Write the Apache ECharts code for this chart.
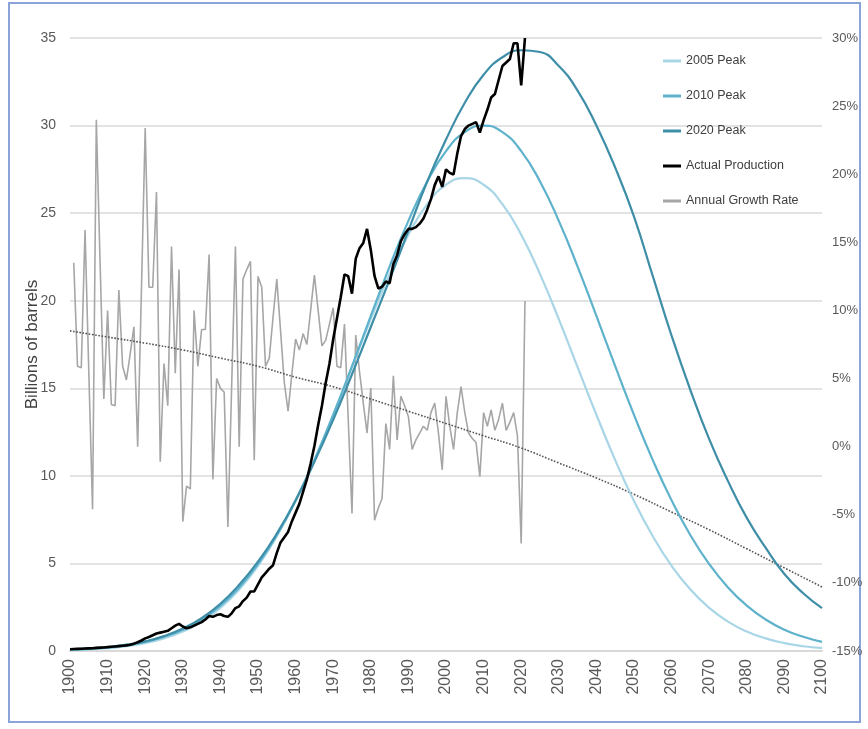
<!DOCTYPE html>
<html>
<head>
<meta charset="utf-8">
<script src="https://cdn.jsdelivr.net/npm/echarts@6/dist/echarts.min.js"></script>
<style>html,body{margin:0;padding:0;background:#fff;}#c{width:868px;height:729px;}</style>
</head>
<body>
<div id="c"></div>
<script>
// ---- data ----
const peakYears = [1900,1905,1910,1915,1920,1925,1930,1935,1940,1945,1950,1955,1960,1965,1970,1975,1980,1985,1990,1995,2000,2005,2010,2015,2020,2025,2030,2035,2040,2045,2050,2055,2060,2065,2070,2075,2080,2085,2090,2095,2100];
const peak2005 = [0.05,0.09,0.16,0.27,0.45,0.72,1.11,1.68,2.46,3.51,4.86,6.55,8.57,10.9,13.49,16.21,18.95,21.52,23.77,25.51,26.62,27.0,26.62,25.51,23.77,21.52,18.95,16.21,13.49,10.9,8.57,6.55,4.86,3.51,2.46,1.68,1.11,0.72,0.45,0.27,0.16];
const peak2010 = [0.07,0.12,0.2,0.33,0.52,0.81,1.22,1.8,2.59,3.63,4.96,6.61,8.6,10.9,13.48,16.26,19.13,21.95,24.56,26.81,28.54,29.63,30.0,29.63,28.54,26.81,24.56,21.95,19.13,16.26,13.48,10.9,8.6,6.61,4.96,3.63,2.59,1.8,1.22,0.81,0.52];
const peak2020 = [0.1,0.15,0.23,0.36,0.55,0.85,1.28,1.88,2.7,3.78,5.1,6.7,8.6,10.8,13.2,15.8,18.5,21.2,24.0,26.8,29.2,31.3,32.9,33.9,34.3,34.2,33.4,32.0,30.0,27.6,24.8,21.4,18.0,14.9,12.1,9.7,7.6,5.9,4.4,3.3,2.45];

const productionStart = 1900;
const production = [
  0.1,0.11,0.12,0.13,0.14,0.15,0.16,0.18,0.19,0.2,
  0.22,0.24,0.26,0.28,0.3,0.32,0.36,0.42,0.5,0.6,
  0.72,0.8,0.9,1.0,1.05,1.1,1.15,1.3,1.45,1.55,
  1.4,1.3,1.35,1.45,1.55,1.65,1.8,2.0,1.95,2.05,
  2.1,2.0,1.95,2.15,2.45,2.55,2.85,3.05,3.4,3.4,
  3.8,4.2,4.45,4.7,4.9,5.6,6.2,6.5,6.8,7.4,
  7.9,8.4,9.1,9.8,10.7,11.7,12.9,14.0,15.3,16.4,
  17.8,19.0,20.2,21.5,21.4,20.4,22.4,23.0,23.3,24.1,
  22.9,21.4,20.7,20.8,21.1,21.0,22.1,22.6,23.4,23.8,
  24.1,24.1,24.2,24.4,24.7,25.2,25.8,26.6,27.1,26.5,
  27.5,27.3,27.2,28.4,29.4,29.8,30.0,30.1,30.2,29.6,
  30.3,30.9,31.6,31.8,32.6,33.4,33.6,33.8,34.7,34.7,
  32.3,35.0
];

const growthStart = 1901;
const growth = [
  13.5,5.9,5.8,15.9,5.5,-4.6,24.0,13.5,3.5,10.0,
  3.1,3.0,11.5,5.9,4.9,6.8,8.8,0.0,11.5,23.4,
  11.7,11.7,18.7,-1.1,6.1,3.0,14.7,5.4,13.0,-5.5,
  -2.9,-3.1,10.0,5.9,8.6,8.6,14.1,-2.4,5.0,4.3,
  4.0,-5.9,4.5,14.7,0.0,12.3,13.0,13.6,-1.0,12.5,
  11.7,5.9,6.5,9.5,12.3,8.5,4.7,2.6,5.3,7.9,
  7.1,8.3,7.5,10.0,12.6,10.0,7.4,7.8,9.0,10.2,
  5.9,5.8,9.0,2.0,-4.9,8.2,5.5,3.2,1.0,4.3,
  -5.4,-4.5,-3.8,1.7,-0.2,5.2,0.5,3.7,3.0,2.2,
  -0.2,0.5,1.0,1.5,1.2,2.5,3.2,1.0,-1.7,3.7,
  1.5,-0.2,2.5,4.4,2.5,1.0,0.6,0.3,-2.2,2.5,
  1.5,2.7,1.2,2.0,3.2,1.2,1.8,2.5,0.8,-7.1,
  10.7
];

const trendYears = [1900,1910,1920,1930,1940,1950,1960,1970,1980,1990,2000,2010,2020,2030,2040,2050,2060,2070,2080,2090,2100];
const trend = [8.5,8.05,7.6,7.1,6.5,5.9,5.1,4.4,3.5,2.6,1.7,0.8,-0.1,-1.2,-2.3,-3.5,-4.8,-6.1,-7.5,-8.9,-10.3];

const legendNames = ['2005 Peak','2010 Peak','2020 Peak','Actual Production','Annual Growth Rate'];

// ---- build ----
const pair = (xs, ys) => ys.map((v, i) => [xs[i], v]);
const seq = (start, ys) => ys.map((v, i) => [start + i, v]);

const FONT = "'Liberation Sans',Arial,sans-serif";

const chart = echarts.init(document.getElementById('c'), null, {renderer: 'canvas'});
chart.setOption({
  animation: false,
  backgroundColor: '#ffffff',
  grid: {left: 70, right: 46, top: 38, bottom: 78},
  legend: {
    orient: 'vertical', left: 658, top: 49,
    icon: 'rect', itemWidth: 18, itemHeight: 3, itemGap: 21,
    data: legendNames,
    textStyle: {fontSize: 12.5, lineHeight: 14, fontFamily: FONT, color: '#404040'}
  },
  xAxis: {
    type: 'value', min: 1900, max: 2100, interval: 10,
    axisLine: {show: true, lineStyle: {color: '#d9d9d9', width: 2}},
    axisTick: {show: false},
    splitLine: {show: false},
    axisLabel: {rotate: 90, fontSize: 16, fontFamily: FONT, color: '#595959', margin: 8, formatter: v => String(v)}
  },
  yAxis: [{
    type: 'value', min: 0, max: 35, interval: 5,
    name: 'Billions of barrels', nameLocation: 'middle', nameGap: 29, nameMoveOverlap: false,
    nameTextStyle: {fontSize: 17, fontFamily: FONT, color: '#404040'},
    axisLine: {show: false}, axisTick: {show: false},
    axisLabel: {fontSize: 14, fontFamily: FONT, color: '#595959', margin: 14},
    splitLine: {show: true, lineStyle: {color: '#e3e3e3', width: 2}}
  }, {
    type: 'value', min: -15, max: 30, interval: 5, position: 'right',
    axisLine: {show: false}, axisTick: {show: false},
    axisLabel: {fontSize: 13, fontFamily: FONT, color: '#595959', margin: 10, formatter: '{value}%'},
    splitLine: {show: false}
  }],
  series: [
    {name: 'Annual Growth Rate', type: 'line', yAxisIndex: 1, data: seq(growthStart, growth), symbol: 'none',
     lineStyle: {color: '#a6a6a6', width: 1.6}, itemStyle: {color: '#a6a6a6'}},
    {name: 'Trend', type: 'line', yAxisIndex: 1, data: pair(trendYears, trend), symbol: 'none', smooth: true,
     lineStyle: {color: '#555555', width: 1.6, type: 'dotted'}, itemStyle: {color: '#555555'}},
    {name: '2005 Peak', type: 'line', data: pair(peakYears, peak2005), symbol: 'none', smooth: true,
     lineStyle: {color: '#a9d6e6', width: 2.2}, itemStyle: {color: '#a9d6e6'}},
    {name: '2010 Peak', type: 'line', data: pair(peakYears, peak2010), symbol: 'none', smooth: true,
     lineStyle: {color: '#5eb2cc', width: 2.2}, itemStyle: {color: '#5eb2cc'}},
    {name: '2020 Peak', type: 'line', data: pair(peakYears, peak2020), symbol: 'none', smooth: true,
     lineStyle: {color: '#3e8ea8', width: 2.2}, itemStyle: {color: '#3e8ea8'}},
    {name: 'Actual Production', type: 'line', data: seq(productionStart, production), symbol: 'none',
     lineStyle: {color: '#000000', width: 2.6}, itemStyle: {color: '#000000'}}
  ],
  graphic: [{
    type: 'rect', silent: true,
    shape: {x: 9, y: 3, width: 851, height: 719},
    style: {fill: 'none', stroke: '#8aa3d8', lineWidth: 2}
  }]
});
</script>
</body>
</html>
